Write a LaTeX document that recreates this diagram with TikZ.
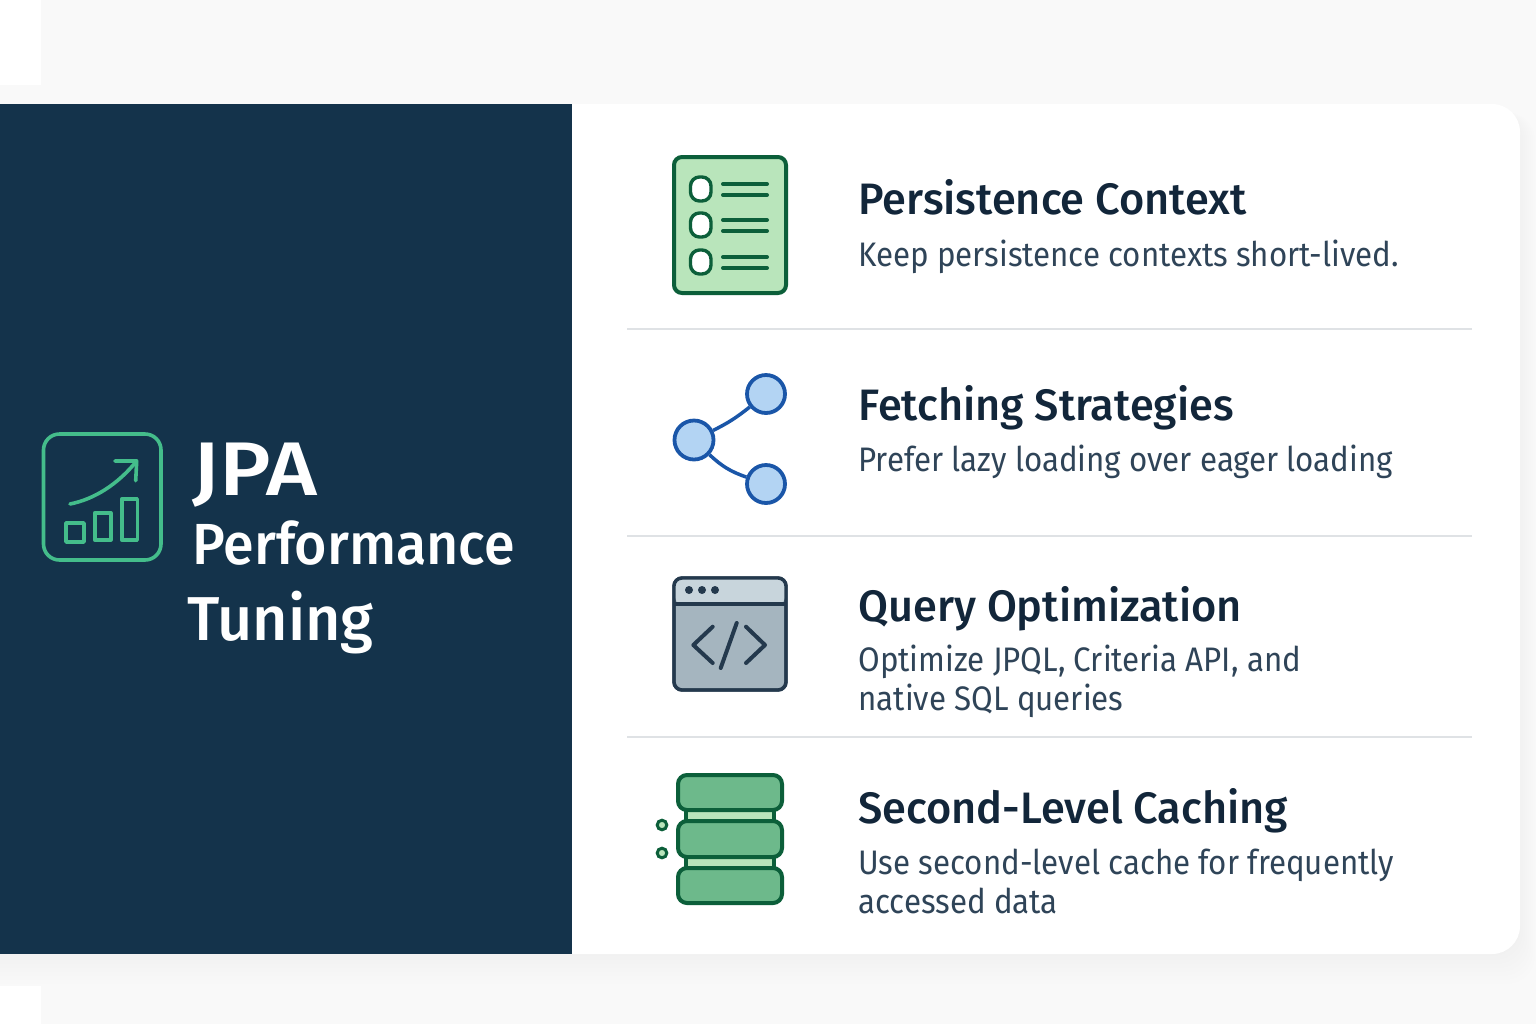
\documentclass[tikz,border=0pt]{standalone}
\usepackage{fontspec}
\usepackage{xcolor}
\usetikzlibrary{calc,positioning}
\setmainfont{Fira Sans}
\newfontfamily\headfont[FakeStretch=0.985]{Fira Sans Medium}
\newfontfamily\jpafont[FakeStretch=1.15]{Fira Sans Medium}
\newfontfamily\titlefont[FakeStretch=0.958]{Fira Sans Medium}
\newfontfamily\bodyfont[FakeStretch=0.92]{Fira Sans}
\definecolor{panelblue}{HTML}{14334B}
\definecolor{pagegray}{HTML}{F9F9F9}
\definecolor{rulegray}{HTML}{DFE2E5}
\definecolor{headink}{HTML}{12263A}
\definecolor{bodyink}{HTML}{2F4458}
\definecolor{mint}{HTML}{44BD8B}
\definecolor{leafdark}{HTML}{0C5F3A}
\definecolor{leaflight}{HTML}{B9E5BB}
\definecolor{leafmid}{HTML}{6DB98B}
\definecolor{netblue}{HTML}{1A56A8}
\definecolor{netlight}{HTML}{B3D4F3}
\definecolor{slatedark}{HTML}{24394D}
\definecolor{slatemid}{HTML}{A5B5BF}
\definecolor{slatelight}{HTML}{C8D5DC}
\tikzset{
	titletext/.style={anchor=base west,inner sep=0pt,text=white,font=\headfont},
	headtext/.style={anchor=base west,inner sep=0pt,text=headink,font=\headfont\fontsize{22}{26}\selectfont},
	subtext/.style={anchor=base west,inner sep=0pt,text=bodyink,align=left,font=\bodyfont\fontsize{17}{19.5}\selectfont},
	divider/.style={draw=rulegray,line width=1pt},
	netnode/.style={circle,draw=netblue,fill=netlight,line width=1.9pt,inner sep=0pt,minimum size=19pt},
	netlink/.style={draw=netblue,line width=1.75pt},
	mintline/.style={draw=mint,line width=1.8pt,line cap=round,line join=round},
	leafbox/.style={draw=leafdark,fill=leaflight,line width=2pt,rounded corners=4pt},
	tier/.style={draw=leafdark,fill=leafmid,line width=2pt,rounded corners=4.5pt},
	codeline/.style={draw=slatedark,line width=2pt,line cap=round,line join=round}
}
\begin{document}
\begin{tikzpicture}[x=0.5pt,y=-0.5pt]
		\useasboundingbox (0,0) rectangle (1536,1024);
		\fill[pagegray] (0,0) rectangle (1536,1024);
		\fill[white] (0,0) rectangle (41,85);
		\fill[white] (0,986) rectangle (41,1024);
		% soft shadow of the card
		\foreach \grow in {30,26,...,2}
			\fill[black,opacity=0.004,rounded corners=14pt] (-40,112) rectangle (1520+\grow*0.5,954+\grow);
		% card and side panel
		\fill[white] (0,104) -- (1492,104) arc (90:0:14pt) -- (1520,926) arc (0:-90:14pt) -- (0,954) -- cycle;
		\fill[panelblue] (0,104) rectangle (572,954);
		% trend icon
		\draw[mintline,rounded corners=8pt] (43.5,434) rectangle (161,560);
		\draw[mintline] (70,504) .. controls (95,499) and (118,484) .. (136.7,461);
		\draw[mintline] (115,461) -- (136.7,461) -- (135.7,480.7);
		\draw[mintline] (66,523) rectangle (84,542);
		\draw[mintline] (94.7,512.7) rectangle (110.7,540);
		\draw[mintline] (121.7,499) rectangle (137.3,540);
		\node[titletext,font=\jpafont\fontsize{38}{40}\selectfont] (jpa) at (192,495) {JPA};
		\node[titletext,font=\titlefont\fontsize{29}{32}\selectfont] (perf) at (192,564) {Performance};
		\node[titletext,font=\headfont\fontsize{31}{34}\selectfont] (tuning) at (187,640) {Tuning};
		% separators
		\draw[divider] (627,329) -- (1472,329);
		\draw[divider] (627,536) -- (1472,536);
		\draw[divider] (627,737) -- (1472,737);
		% checklist icon
		\draw[leafbox] (674,157) rectangle (786,293);
		\foreach \y in {189,225,262} {
			\draw[draw=leafdark,fill=white,line width=1.7pt,rounded corners=4.5pt] (690.5,\y-12) rectangle (711,\y+12);
			\draw[draw=leafdark,line width=2pt,line cap=round] (723,\y-5) -- (767,\y-5);
			\draw[draw=leafdark,line width=2pt,line cap=round] (723,\y+6) -- (767,\y+6);
		}
		\node[headtext] (persist) at (858,214) {Persistence Context};
		\node[subtext] (persistsub) at (858,266) {Keep persistence contexts short-lived.};
		% share icon
		\node[netnode,minimum size=19.5pt] (hub) at (694,440) {};
		\node[netnode] (leafa) at (766,394) {};
		\node[netnode] (leafb) at (766,484) {};
		\draw[netlink] (hub) to[bend right=6] (leafa);
		\draw[netlink] (hub) to[bend right=12] (leafb);
		\node[headtext] (fetch) at (858,420) {Fetching Strategies};
		\node[subtext] (fetchsub) at (858,471) {Prefer lazy loading over eager loading};
		% code window icon
		\draw[draw=slatedark,fill=slatemid,line width=1.7pt,rounded corners=4pt] (674,578) rectangle (786,690);
		\fill[slatelight,rounded corners=3pt] (675,579) rectangle (785,603);
		\draw[draw=slatedark,line width=1.7pt] (674,604) -- (786,604);
		\draw[draw=slatedark,line width=1.7pt,rounded corners=4pt] (674,578) rectangle (786,690);
		\foreach \x in {689,702,715}
			\fill[slatedark] (\x,590) circle (2pt);
		\draw[codeline] (712.7,626.7) -- (693.3,645) -- (712.7,663);
		\draw[codeline] (746,626.7) -- (765,645) -- (746,663);
		\draw[codeline] (736.7,623) -- (720.7,668);
		\node[headtext] (query) at (858,621) {Query Optimization};
		\node[subtext] (querysub) at (858,710) {Optimize JPQL, Criteria API, and\\native SQL queries};
		% storage icon
		\draw[draw=leafdark,fill=leaflight,line width=2pt] (686,809) rectangle (774,822);
		\draw[draw=leafdark,fill=leaflight,line width=2pt] (686,855) rectangle (774,869);
		\draw[tier] (678,775) rectangle (782,810);
		\draw[tier] (678,821) rectangle (782,857);
		\draw[tier] (678,868) rectangle (782,903);
		\foreach \y in {825,853}
			\draw[draw=leafdark,fill=leaflight,line width=1.5pt] (662,\y) circle (2.4pt);
		\node[headtext] (cache) at (858,823) {Second-Level Caching};
		\node[subtext] (cachesub) at (858,913) {Use second-level cache for frequently\\accessed data};
		\end{tikzpicture}
\end{document}
